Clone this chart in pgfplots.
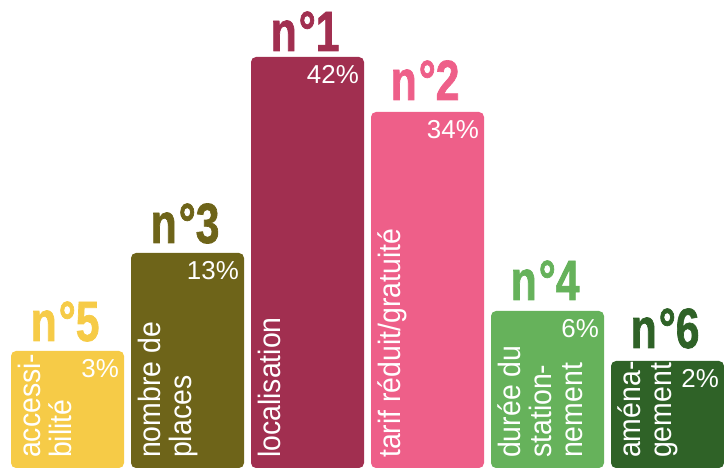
\documentclass[border=0pt]{standalone}
\usepackage{pgfplots}
\pgfplotsset{compat=1.18}
\usepackage{fontspec}
\setmainfont{Liberation Sans}
\newfontfamily\rankfont[FakeStretch=0.75,FakeBold=1.2]{Liberation Sans}
\newfontfamily\catfont[FakeStretch=0.92]{Liberation Sans}

\definecolor{cA}{HTML}{F6CB47}
\definecolor{cB}{HTML}{6E6419}
\definecolor{cC}{HTML}{A12F50}
\definecolor{cD}{HTML}{EE5F89}
\definecolor{cE}{HTML}{66B25B}
\definecolor{cF}{HTML}{2F6227}

% #1 x, #2 bar height, #3 colour, #4 rank, #5 percent, #6 gap above bar
\newcommand\barlabels[6]{%
  \node[anchor=base, text=#3, inner sep=0pt,
        font=\rankfont\bfseries\fontsize{57}{57}\selectfont]
    at (axis cs:{#1-0.02},{#2+#6}) {n\kern2bp°#4};
  \node[anchor=base east, text=white, inner sep=0pt,
        font=\fontsize{26}{26}\selectfont]
    at (axis cs:{#1+0.4292},{#2-27}) {#5\%};
}
\newcommand\catlabel[2]{%
  \node[rotate=90, anchor=north west, inner sep=0pt, align=left, text=white,
        font=\catfont\fontsize{31}{31}\selectfont]
    at (axis cs:{#1-0.4125},10) {#2};
}

\begin{document}
\begin{tikzpicture}
\begin{axis}[
    scale only axis,
    width=724bp, height=471bp,
    xmin=-0.5625, xmax=5.4708,
    ymin=-3, ymax=468,
    axis lines=none,
    ybar, bar width=113bp, bar shift=0pt,
    clip=false,
  ]
  \addplot[fill=cA, draw=none, rounded corners=5bp] coordinates {(0,117)};
  \addplot[fill=cB, draw=none, rounded corners=5bp] coordinates {(1,215)};
  \addplot[fill=cC, draw=none, rounded corners=5bp] coordinates {(2,411)};
  \addplot[fill=cD, draw=none, rounded corners=5bp] coordinates {(3,356)};
  \addplot[fill=cE, draw=none, rounded corners=5bp] coordinates {(4,157)};
  \addplot[fill=cF, draw=none, rounded corners=5bp] coordinates {(5,107)};

  \barlabels{0}{117}{cA}{5}{3}{10}
  \barlabels{1}{215}{cB}{3}{13}{10}
  \barlabels{2}{411}{cC}{1}{42}{6}
  \barlabels{3}{356}{cD}{2}{34}{12}
  \barlabels{4}{157}{cE}{4}{6}{11}
  \barlabels{5}{107}{cF}{6}{2}{13}

  \catlabel{0}{accessi-\\bilité}
  \catlabel{1}{nombre de\\places}
  \catlabel{2}{localisation}
  \catlabel{3}{tarif réduit/gratuité}
  \catlabel{4}{durée du\\station-\\nement}
  \catlabel{5}{aména-\\gement}
\end{axis}
\pgfresetboundingbox
\useasboundingbox (current axis.south west) rectangle (current axis.north east);
\end{tikzpicture}
\end{document}
